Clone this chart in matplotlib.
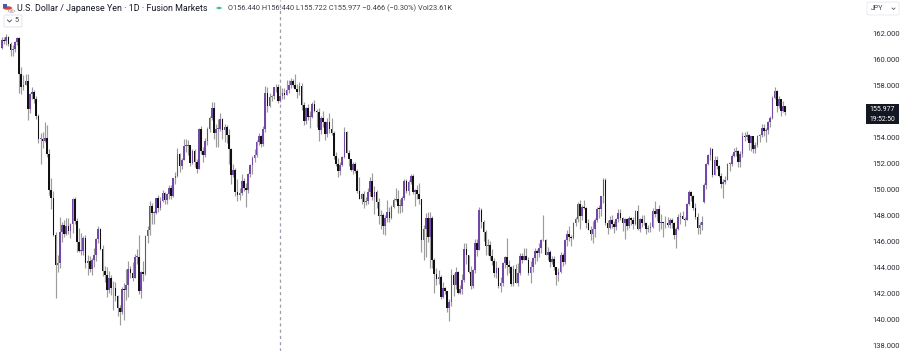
import numpy as np
import matplotlib
matplotlib.use("Agg")
import matplotlib.pyplot as plt
from matplotlib.patches import Circle, FancyBboxPatch, Rectangle
from matplotlib.lines import Line2D

# daily USD/JPY candles, Jul 2024 -> Nov 2025
opens = [
    160.88, 161.47, 161.45, 161.70, 161.23, 160.73, 160.82, 161.33, 161.64, 158.85,
    157.85, 158.06, 158.37, 156.19, 157.37, 157.47, 156.96, 155.62, 153.88, 153.92,
    153.75, 153.98, 152.72, 149.98, 149.36, 146.53, 144.17, 144.31, 146.71, 147.27,
    146.60, 147.20, 146.84, 147.33, 149.29, 147.61, 145.95, 145.25, 145.27, 146.27,
    144.36, 144.53, 143.89, 144.61, 144.97, 146.17, 146.94, 145.45, 143.71, 143.40,
    142.29, 143.18, 142.43, 142.39, 141.83, 140.85, 140.60, 142.36, 142.30, 142.62,
    143.86, 143.61, 143.22, 144.79, 144.81, 142.18, 143.63, 143.53, 146.44, 146.90,
    148.70, 148.18, 148.22, 149.31, 148.58, 149.14, 149.76, 149.21, 149.62, 150.09,
    149.51, 150.85, 151.06, 152.72, 151.84, 152.26, 153.33, 153.37, 153.40, 152.02,
    152.95, 152.12, 151.60, 154.62, 152.95, 152.64, 153.72, 154.62, 155.48, 156.29,
    154.31, 154.66, 154.67, 155.43, 154.55, 154.78, 154.21, 153.08, 151.09, 151.51,
    149.77, 149.59, 149.76, 150.63, 150.09, 149.99, 151.23, 151.91, 152.45, 152.64,
    153.65, 154.12, 153.48, 154.67, 157.40, 156.39, 157.15, 157.17, 157.86, 157.86,
    156.80, 157.19, 157.43, 157.26, 157.66, 158.05, 158.31, 158.04, 157.74, 157.52,
    157.99, 156.51, 155.25, 156.29, 155.59, 155.61, 156.55, 156.04, 155.97, 154.60,
    155.48, 155.20, 154.28, 155.18, 154.65, 154.33, 152.61, 151.99, 151.40, 151.91,
    152.47, 154.44, 152.83, 152.31, 151.50, 151.96, 151.45, 149.92, 149.26, 149.68,
    149.00, 149.08, 149.81, 150.62, 149.45, 149.84, 149.05, 147.98, 148.03, 147.23,
    147.77, 148.26, 147.81, 148.62, 149.22, 149.27, 148.71, 148.73, 149.33, 150.69,
    149.90, 150.58, 151.04, 149.84, 149.93, 149.62, 149.28, 146.10, 146.96, 147.82,
    146.32, 147.84, 144.60, 143.52, 143.08, 143.24, 141.76, 142.45, 142.17, 140.87,
    141.38, 143.44, 142.62, 143.65, 142.03, 142.35, 143.07, 145.40, 144.93, 143.68,
    142.55, 143.79, 145.89, 145.37, 148.40, 147.52, 146.70, 145.67, 145.70, 144.89,
    144.49, 143.60, 143.98, 142.58, 142.81, 144.31, 144.84, 144.22, 144.03, 142.71,
    143.91, 142.84, 143.54, 144.86, 144.58, 144.86, 144.61, 143.58, 144.07, 144.74,
    145.28, 145.08, 145.48, 146.09, 146.12, 144.99, 145.20, 144.40, 144.64, 144.03,
    143.44, 143.67, 144.98, 144.45, 146.08, 146.59, 146.31, 146.25, 147.40, 147.73,
    148.88, 147.96, 148.62, 148.59, 147.41, 146.90, 146.55, 146.97, 147.66, 148.51,
    148.48, 149.52, 150.75, 147.39, 147.06, 147.63, 147.36, 147.10, 147.70, 148.19,
    147.83, 147.41, 147.75, 147.18, 147.82, 147.67, 147.33, 148.36, 146.93, 147.76,
    147.40, 147.42, 146.99, 147.05, 147.12, 148.37, 148.08, 148.47, 147.42, 147.49,
    147.40, 147.45, 147.24, 147.68, 147.41, 146.47, 146.97, 147.92, 147.99, 147.72,
    147.66, 148.88, 149.83, 149.50, 148.61, 147.91, 147.06, 147.28, 149.03, 150.35,
    151.99, 152.68, 153.14, 151.15, 152.28, 151.81, 151.04, 150.41, 150.59, 150.75,
    151.96, 151.98, 152.57, 152.86, 152.97, 152.08, 152.74, 154.12, 154.01, 154.19,
    153.56, 154.11, 153.11, 153.40, 154.14, 154.16, 154.75, 154.52, 154.56, 155.18,
    155.50, 157.07, 157.54, 156.41, 156.93, 156.06, 156.44,
]
highs = [
    161.73, 161.74, 161.95, 161.82, 161.33, 161.15, 161.44, 161.76, 161.76, 159.45,
    158.78, 158.87, 158.86, 157.45, 157.87, 157.64, 157.18, 155.78, 154.31, 154.42,
    155.21, 155.00, 153.08, 150.89, 149.89, 146.73, 145.00, 147.89, 147.48, 147.67,
    147.82, 147.83, 147.43, 149.36, 149.40, 147.83, 147.01, 146.65, 146.45, 146.48,
    145.00, 144.92, 144.76, 145.50, 146.24, 147.21, 147.03, 145.72, 144.12, 144.01,
    143.70, 143.41, 142.96, 142.90, 141.86, 141.08, 142.47, 142.79, 143.92, 144.49,
    144.12, 144.39, 145.05, 145.40, 146.49, 143.70, 144.50, 146.50, 147.23, 149.10,
    149.00, 148.37, 149.34, 149.55, 149.40, 149.98, 149.77, 149.70, 150.32, 150.32,
    150.90, 151.35, 153.19, 152.83, 152.43, 153.88, 153.87, 153.82, 153.43, 153.09,
    153.12, 152.37, 154.71, 154.88, 153.30, 153.93, 154.80, 155.67, 156.74, 156.75,
    155.01, 155.41, 155.89, 155.47, 155.01, 154.95, 154.68, 153.18, 151.95, 151.63,
    150.77, 150.11, 151.23, 150.86, 150.50, 151.28, 152.00, 152.55, 153.13, 153.84,
    154.35, 154.17, 154.90, 157.93, 157.86, 157.43, 157.29, 157.92, 158.08, 158.09,
    157.84, 157.84, 157.77, 158.42, 158.41, 158.55, 158.47, 158.88, 158.09, 158.28,
    158.19, 156.70, 156.31, 156.60, 156.06, 156.75, 156.86, 156.23, 156.28, 155.64,
    156.02, 155.24, 155.47, 155.89, 155.48, 154.47, 152.92, 152.46, 152.14, 152.60,
    154.80, 154.53, 153.04, 152.36, 152.14, 152.15, 151.54, 151.00, 149.70, 149.87,
    149.44, 150.14, 150.99, 151.30, 150.30, 149.95, 149.32, 148.40, 148.19, 148.01,
    149.20, 148.65, 148.82, 149.38, 150.15, 149.93, 149.25, 149.50, 150.77, 150.79,
    150.72, 151.21, 151.20, 150.03, 150.33, 150.49, 149.30, 147.30, 148.17, 148.27,
    148.28, 147.98, 144.75, 143.93, 143.79, 143.41, 142.89, 142.51, 142.20, 141.60,
    143.92, 143.58, 144.02, 143.72, 142.69, 143.47, 145.91, 145.92, 144.97, 144.12,
    143.88, 146.18, 146.17, 148.65, 148.60, 147.68, 146.88, 146.19, 146.01, 145.43,
    144.73, 144.48, 144.05, 143.26, 144.40, 144.90, 146.28, 144.61, 144.09, 144.18,
    144.24, 144.35, 145.09, 145.12, 145.47, 145.48, 144.82, 144.48, 144.80, 145.47,
    145.40, 145.87, 146.18, 148.02, 146.18, 145.55, 145.36, 144.86, 144.88, 144.05,
    143.95, 145.22, 145.09, 146.20, 146.90, 147.17, 146.53, 147.51, 147.89, 149.01,
    149.19, 148.82, 149.17, 148.65, 147.76, 147.21, 147.57, 147.77, 148.66, 148.78,
    149.53, 150.92, 150.91, 147.62, 147.93, 148.07, 147.58, 147.83, 148.52, 148.51,
    147.88, 147.80, 147.84, 147.94, 147.92, 147.85, 148.39, 148.78, 147.83, 148.06,
    148.06, 147.50, 147.28, 147.49, 148.58, 149.14, 148.53, 148.78, 148.08, 147.52,
    147.98, 147.91, 147.83, 147.77, 147.53, 147.10, 148.11, 148.29, 148.38, 147.85,
    148.94, 149.96, 149.92, 149.59, 149.00, 148.19, 147.48, 147.93, 150.47, 152.06,
    152.76, 153.27, 153.18, 152.56, 152.61, 151.91, 151.28, 150.81, 151.06, 152.05,
    152.12, 152.70, 153.18, 153.26, 153.01, 152.97, 154.43, 154.45, 154.48, 154.27,
    154.14, 154.13, 153.67, 154.19, 154.28, 155.03, 155.05, 154.74, 155.28, 155.67,
    157.18, 157.89, 157.65, 157.23, 156.99, 156.77, 156.44,
]
lows = [
    160.82, 161.21, 161.15, 161.07, 160.27, 160.30, 160.60, 161.10, 157.44, 157.37,
    157.62, 158.05, 155.37, 155.91, 156.95, 156.67, 155.45, 153.61, 151.94, 153.17,
    153.66, 152.53, 149.60, 148.51, 146.41, 141.68, 143.65, 143.97, 145.93, 146.34,
    146.53, 146.56, 146.27, 146.64, 147.37, 145.20, 145.19, 144.95, 145.00, 143.93,
    143.44, 143.64, 143.45, 144.01, 144.48, 145.88, 145.35, 143.33, 142.91, 141.75,
    142.03, 141.92, 140.71, 141.46, 140.30, 139.58, 140.42, 139.99, 141.50, 141.73,
    143.17, 142.99, 143.16, 144.29, 141.95, 141.65, 142.97, 143.40, 145.92, 146.47,
    147.35, 147.33, 148.10, 148.30, 148.42, 149.05, 148.91, 148.88, 149.28, 149.28,
    149.46, 150.42, 150.97, 151.32, 151.61, 152.25, 152.90, 152.69, 151.79, 151.96,
    151.70, 151.30, 151.55, 152.74, 152.09, 152.53, 153.45, 154.43, 155.37, 153.86,
    153.27, 153.27, 154.51, 153.89, 153.67, 153.54, 151.97, 150.45, 151.00, 149.47,
    149.09, 149.17, 149.56, 149.89, 148.65, 149.75, 150.93, 151.23, 152.11, 152.50,
    153.43, 153.24, 153.35, 154.46, 155.93, 156.33, 156.83, 157.00, 157.47, 156.63,
    156.76, 156.93, 156.96, 157.24, 157.42, 157.78, 157.89, 157.73, 157.05, 157.29,
    156.08, 154.97, 155.04, 155.37, 154.76, 155.50, 155.93, 154.81, 153.72, 154.25,
    154.78, 153.80, 154.07, 154.38, 154.19, 152.31, 151.81, 150.93, 151.11, 151.83,
    152.40, 152.77, 151.80, 151.46, 151.20, 151.30, 149.70, 149.25, 148.86, 148.57,
    148.83, 148.88, 149.51, 149.22, 148.10, 148.61, 147.32, 146.94, 146.54, 146.53,
    147.51, 147.47, 147.71, 148.58, 149.09, 148.17, 148.18, 148.27, 149.20, 149.75,
    149.60, 150.39, 149.65, 148.70, 149.27, 148.85, 145.18, 144.55, 144.81, 145.97,
    143.99, 143.93, 142.07, 142.64, 142.76, 141.61, 141.62, 141.93, 140.61, 139.89,
    141.03, 141.81, 142.38, 141.98, 141.97, 141.95, 142.88, 144.29, 143.56, 142.36,
    142.45, 143.54, 144.87, 145.36, 147.05, 146.01, 144.96, 145.00, 144.56, 144.20,
    143.26, 143.17, 142.43, 142.11, 142.59, 143.96, 143.45, 143.60, 142.57, 142.61,
    142.83, 142.59, 143.42, 144.37, 144.55, 144.54, 143.42, 142.80, 143.65, 144.30,
    144.49, 144.82, 145.09, 146.06, 144.96, 144.55, 144.06, 144.24, 143.79, 142.67,
    142.94, 143.57, 144.10, 144.29, 145.67, 146.01, 145.69, 146.18, 147.17, 147.47,
    146.93, 147.65, 148.53, 147.07, 146.88, 146.08, 145.85, 146.38, 147.50, 147.82,
    147.95, 148.99, 147.30, 146.61, 146.97, 147.05, 146.69, 146.87, 147.50, 147.66,
    146.78, 146.22, 146.90, 147.03, 147.26, 146.94, 147.24, 146.89, 146.76, 147.15,
    147.26, 146.56, 146.71, 146.72, 147.06, 147.92, 147.55, 146.83, 146.95, 146.32,
    147.03, 147.12, 147.03, 147.05, 146.21, 145.49, 146.90, 147.37, 147.71, 147.17,
    147.64, 148.80, 149.14, 148.40, 147.70, 146.59, 146.57, 146.91, 148.94, 150.06,
    151.89, 152.26, 150.99, 151.13, 151.59, 150.98, 150.15, 149.38, 150.41, 150.74,
    151.44, 151.84, 152.49, 152.58, 151.71, 151.76, 152.47, 153.76, 153.81, 153.01,
    152.97, 152.82, 152.83, 153.25, 153.66, 154.06, 154.09, 153.62, 154.29, 154.79,
    155.39, 156.95, 155.94, 156.25, 155.64, 155.98, 155.72,
]
closes = [
    161.47, 161.45, 161.70, 161.23, 160.73, 160.82, 161.33, 161.64, 158.85, 157.85,
    158.06, 158.37, 156.19, 157.37, 157.47, 156.96, 155.62, 153.88, 153.92, 153.75,
    153.98, 152.72, 149.98, 149.36, 146.53, 144.17, 144.31, 146.71, 147.27, 146.60,
    147.20, 146.84, 147.33, 149.29, 147.61, 145.95, 145.25, 145.27, 146.27, 144.36,
    144.53, 143.89, 144.61, 144.97, 146.17, 146.94, 145.45, 143.71, 143.40, 142.29,
    143.18, 142.43, 142.39, 141.83, 140.85, 140.60, 142.36, 142.30, 142.62, 143.86,
    143.61, 143.22, 144.79, 144.81, 142.18, 143.63, 143.53, 146.44, 146.90, 148.70,
    148.18, 148.22, 149.31, 148.58, 149.14, 149.76, 149.21, 149.62, 150.09, 149.51,
    150.85, 151.06, 152.72, 151.84, 152.26, 153.33, 153.37, 153.40, 152.02, 152.95,
    152.12, 151.60, 154.62, 152.95, 152.64, 153.72, 154.62, 155.48, 156.29, 154.31,
    154.66, 154.67, 155.43, 154.55, 154.78, 154.21, 153.08, 151.09, 151.51, 149.77,
    149.59, 149.76, 150.63, 150.09, 149.99, 151.23, 151.91, 152.45, 152.64, 153.65,
    154.12, 153.48, 154.67, 157.40, 156.39, 157.15, 157.17, 157.86, 157.86, 156.80,
    157.19, 157.43, 157.26, 157.66, 158.05, 158.31, 158.04, 157.74, 157.52, 157.99,
    156.51, 155.25, 156.29, 155.59, 155.61, 156.55, 156.04, 155.97, 154.60, 155.48,
    155.20, 154.28, 155.18, 154.65, 154.33, 152.61, 151.99, 151.40, 151.91, 152.47,
    154.44, 152.83, 152.31, 151.50, 151.96, 151.45, 149.92, 149.26, 149.68, 149.00,
    149.08, 149.81, 150.62, 149.45, 149.84, 149.05, 147.98, 148.03, 147.23, 147.77,
    148.26, 147.81, 148.62, 149.22, 149.27, 148.71, 148.73, 149.33, 150.69, 149.90,
    150.58, 151.04, 149.84, 149.93, 149.62, 149.28, 146.10, 146.96, 147.82, 146.32,
    147.84, 144.60, 143.52, 143.08, 143.24, 141.76, 142.45, 142.17, 140.87, 141.38,
    143.44, 142.62, 143.65, 142.03, 142.35, 143.07, 145.40, 144.93, 143.68, 142.55,
    143.79, 145.89, 145.37, 148.40, 147.52, 146.70, 145.67, 145.70, 144.89, 144.49,
    143.60, 143.98, 142.58, 142.81, 144.31, 144.84, 144.22, 144.03, 142.71, 143.91,
    142.84, 143.54, 144.86, 144.58, 144.86, 144.61, 143.58, 144.07, 144.74, 145.28,
    145.08, 145.48, 146.09, 146.12, 144.99, 145.20, 144.40, 144.64, 144.03, 143.44,
    143.67, 144.98, 144.45, 146.08, 146.59, 146.31, 146.25, 147.40, 147.73, 148.88,
    147.96, 148.62, 148.59, 147.41, 146.90, 146.55, 146.97, 147.66, 148.51, 148.48,
    149.52, 150.75, 147.39, 147.06, 147.63, 147.36, 147.10, 147.70, 148.19, 147.83,
    147.41, 147.75, 147.18, 147.82, 147.67, 147.33, 148.36, 146.93, 147.76, 147.40,
    147.42, 146.99, 147.05, 147.12, 148.37, 148.08, 148.47, 147.42, 147.49, 147.40,
    147.45, 147.24, 147.68, 147.41, 146.47, 146.97, 147.92, 147.99, 147.72, 147.66,
    148.88, 149.83, 149.50, 148.61, 147.91, 147.06, 147.28, 147.47, 150.35, 151.99,
    152.68, 153.14, 151.15, 152.28, 151.81, 151.04, 150.41, 150.59, 150.75, 151.96,
    151.98, 152.57, 152.86, 152.97, 152.08, 152.74, 154.12, 154.01, 154.19, 153.56,
    154.11, 153.11, 153.40, 154.14, 154.16, 154.75, 154.52, 154.56, 155.18, 155.50,
    157.07, 157.54, 156.41, 156.93, 156.06, 156.45, 155.977,
]
# 156.000 sits under the last-price label in the reference, so it is not shown
price_ticks = [138, 140, 142, 144, 146, 148, 150, 152, 154, 158, 160, 162]
title = "U.S. Dollar / Japanese Yen \u00b7 1D \u00b7 Fusion Markets"
ohlc_text = "O156.440 H156.440 L155.722 C155.977 \u22120.466 (\u22120.30%) Vol23.61K"
countdown = "19:52:50"
sep_index = 130  # dashed vertical marker

W, H = 902, 351
UP = "#7148a8"
DOWN = "#111111"
WICK = "#9c9c9c"
TXT = "#131722"

plt.rcParams["font.family"] = ["Roboto", "DejaVu Sans"]

o = np.array(opens)
h = np.array(highs)
l = np.array(lows)
c = np.array(closes)
xs = np.arange(len(c))
up = c >= o

fig = plt.figure(figsize=(W / 100, H / 100), dpi=100)
fig.patch.set_facecolor("white")
ax = fig.add_axes([0, 0, 855 / W, 1])

ax.vlines(xs, l, h, color=WICK, lw=0.85, zorder=1)
body_bottom = np.minimum(o, c)
body_h = np.maximum(np.abs(c - o), 0.06)
ax.bar(xs[up], body_h[up], bottom=body_bottom[up], width=0.78, color=UP, lw=0, zorder=2)
ax.bar(xs[~up], body_h[~up], bottom=body_bottom[~up], width=0.78, color=DOWN, lw=0, zorder=2)

ax.axvline(sep_index, color="#9a9ea8", lw=0.9, ls=(0, (2.5, 2.5)), zorder=0)

pitch = 2.14
x_left = -2 / pitch
ax.set_xlim(x_left, x_left + 855 / pitch)
ax.set_ylim(162 - (H - 33.5) / 13, 162 + 33.5 / 13)

for s in ax.spines.values():
    s.set_visible(False)
ax.set_xticks([])
ax.yaxis.tick_right()
ax.set_yticks(price_ticks)
ax.set_yticklabels([f"{v:.3f}" for v in price_ticks])
ax.tick_params(axis="y", length=0, pad=12.5, labelsize=5.5, labelcolor="#2a2e39")


def fx(px):
    return px / W


def fy(py):
    return 1 - py / H


# header
fig.patches.append(Circle((fx(7.5), fy(8)), 4.6 / W, transform=fig.transFigure,
                          facecolor="#d8443f", edgecolor="none"))
fig.patches.append(Rectangle((fx(3), fy(8)), 4.5 / W, 4.5 / H, transform=fig.transFigure,
                             facecolor="#3b5ea8", edgecolor="none"))
fig.patches.append(Circle((fx(11.5), fy(11)), 3.4 / W, transform=fig.transFigure,
                          facecolor="white", edgecolor="#9aa0aa", lw=0.4))
fig.patches.append(Circle((fx(11.5), fy(11)), 1.3 / W, transform=fig.transFigure,
                          facecolor="#d8443f", edgecolor="none"))
fig.text(fx(17), fy(8.5), title, fontsize=6.4, color=TXT, va="center", ha="left")
fig.patches.append(Circle((fx(219), fy(8)), 3.6 / W, transform=fig.transFigure,
                          facecolor="#b9e6df", edgecolor="none"))
fig.patches.append(Circle((fx(219), fy(8)), 2.2 / W, transform=fig.transFigure,
                          facecolor="#22ab94", edgecolor="none"))
fig.text(fx(228), fy(8.5), ohlc_text, fontsize=5.35, color="#3b3f48", va="center", ha="left")

# indicator toggle box
fig.patches.append(FancyBboxPatch((fx(4), fy(27)), 18 / W, 12 / H,
                                  boxstyle="round,pad=0,rounding_size=0.003",
                                  transform=fig.transFigure, facecolor="white",
                                  edgecolor="#e0e3eb", lw=0.7))
fig.lines.append(Line2D([fx(7.5), fx(9.5), fx(11.5)], [fy(20), fy(22), fy(20)],
                        transform=fig.transFigure, color="#555a66", lw=0.7))
fig.text(fx(14.5), fy(21), "5", fontsize=5.2, color="#3b3f48", va="center", ha="left")

# currency box
fig.patches.append(FancyBboxPatch((fx(867), fy(15)), 32 / W, 13 / H,
                                  boxstyle="round,pad=0,rounding_size=0.003",
                                  transform=fig.transFigure, facecolor="white",
                                  edgecolor="#e6e8ee", lw=0.6))
fig.text(fx(871), fy(8.5), "JPY", fontsize=5.0, color="#3b3f48", va="center", ha="left")
fig.lines.append(Line2D([fx(892), fx(893.5), fx(895)], [fy(8), fy(9.5), fy(8)],
                        transform=fig.transFigure, color="#555a66", lw=0.6))

# last price label
fig.canvas.draw()
last_y = H - ax.transData.transform((0, c[-1]))[1]
fig.patches.append(Rectangle((fx(866), fy(last_y + 12.6)), 33 / W, 20 / H,
                             transform=fig.transFigure, facecolor="#131722", edgecolor="none"))
fig.text(fx(882.5), fy(last_y - 2.3), f"{c[-1]:.3f}", fontsize=5.0, color="white",
         va="center", ha="center")
fig.text(fx(882.5), fy(last_y + 7.6), countdown, fontsize=4.9, color="white",
         va="center", ha="center")

fig.savefig("out.png", dpi=100, facecolor="white")
